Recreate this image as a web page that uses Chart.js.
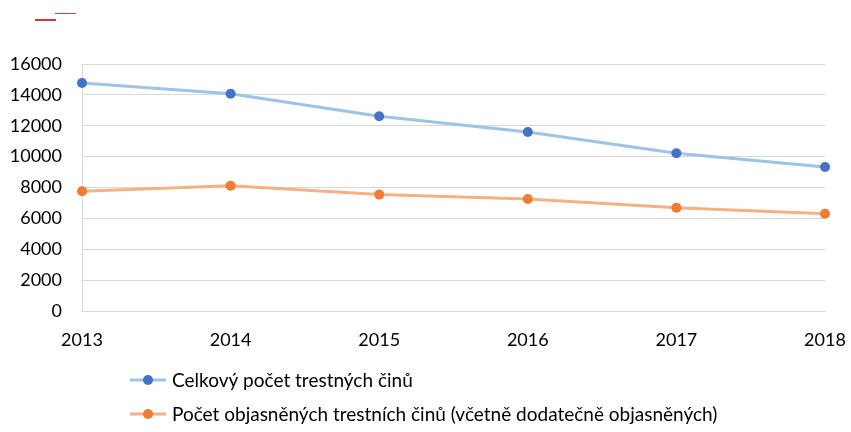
<!DOCTYPE html>
<html>
<head>
<meta charset="utf-8">
<script src="https://cdn.jsdelivr.net/npm/chart.js@4"></script>
<style>
  html, body { margin: 0; padding: 0; background: #ffffff; }
  #wrap { width: 851px; height: 432px; position: relative; }
</style>
</head>
<body>
<div id="wrap"><canvas id="crimeChart"></canvas></div>
<script>
// Trestná činnost 2013–2018
const years = ['2013', '2014', '2015', '2016', '2017', '2018'];
const totalCrimes = [14770, 14070, 12620, 11600, 10220, 9330];
const solvedCrimes = [7760, 8120, 7540, 7250, 6690, 6300];
const seriesNames = [
    'Celkový počet trestných činů',
    'Počet objasněných trestních činů (včetně dodatečně objasněných)'
];
const yTicks = { min: 0, max: 16000, step: 2000 };

const FONT = 'Lato, "Open Sans", sans-serif';
const TEXT_COLOR = '#000000';
const GRID_COLOR = '#d9d9d9';

// small header marks in the top-left corner
const headerMarks = {
    id: 'headerMarks',
    afterDraw(chart) {
        const ctx = chart.ctx;
        ctx.save();
        ctx.fillStyle = '#d9383a';
        ctx.fillRect(35, 19, 21, 2);
        ctx.fillStyle = '#c9484c';
        ctx.fillRect(55, 13, 21, 1);
        ctx.restore();
    }
};

// legend as a left aligned list: line + dot + label
const listLegend = {
    id: 'listLegend',
    afterDraw(chart) {
        const ctx = chart.ctx;
        const rows = [380, 414];
        ctx.save();
        ctx.font = '19px ' + FONT;
        ctx.textBaseline = 'middle';
        ctx.textAlign = 'left';
        chart.data.datasets.forEach(function(ds, i) {
            const y = rows[i];
            ctx.strokeStyle = ds.borderColor;
            ctx.lineWidth = 3;
            ctx.beginPath();
            ctx.moveTo(130, y);
            ctx.lineTo(166, y);
            ctx.stroke();
            ctx.fillStyle = ds.pointBackgroundColor;
            ctx.beginPath();
            ctx.arc(148, y, 5, 0, Math.PI * 2);
            ctx.fill();
            ctx.fillStyle = TEXT_COLOR;
            ctx.fillText(ds.label, 172, y + 1);
        });
        ctx.restore();
    }
};

const ctx = document.getElementById('crimeChart').getContext('2d');
new Chart(ctx, {
    type: 'line',
    data: {
        labels: years,
        datasets: [
            {
                label: seriesNames[0],
                data: totalCrimes,
                borderColor: '#9dc3e6',
                borderWidth: 3,
                pointBackgroundColor: '#4472c4',
                pointBorderColor: '#4472c4',
                pointRadius: 5,
                pointBorderWidth: 0,
                tension: 0
            },
            {
                label: seriesNames[1],
                data: solvedCrimes,
                borderColor: '#f4b183',
                borderWidth: 3,
                pointBackgroundColor: '#ed7d31',
                pointBorderColor: '#ed7d31',
                pointRadius: 5,
                pointBorderWidth: 0,
                tension: 0
            }
        ]
    },
    options: {
        responsive: true,
        maintainAspectRatio: false,
        animation: false,
        layout: { padding: { top: 64, right: 26, bottom: 81, left: 0 } },
        plugins: {
            legend: { display: false },
            tooltip: { enabled: false }
        },
        scales: {
            x: {
                offset: false,
                grid: { display: false, drawTicks: false },
                border: { display: true, color: GRID_COLOR, width: 1 },
                ticks: {
                    color: TEXT_COLOR,
                    font: { family: FONT, size: 18 },
                    padding: 18,
                    maxRotation: 0
                },
                afterFit(scale) {
                    scale.height = 40;
                    scale.paddingLeft = 0;
                    scale.paddingRight = 0;
                }
            },
            y: {
                min: yTicks.min,
                max: yTicks.max,
                grid: { color: GRID_COLOR, lineWidth: 1, drawTicks: false },
                border: { display: true, color: GRID_COLOR, width: 1 },
                ticks: {
                    stepSize: yTicks.step,
                    color: TEXT_COLOR,
                    font: { family: FONT, size: 18 },
                    padding: 20,
                    callback: function(value) { return String(value); }
                },
                afterFit(scale) { scale.width = 82; }
            }
        }
    },
    plugins: [headerMarks, listLegend]
});
</script>
</body>
</html>
